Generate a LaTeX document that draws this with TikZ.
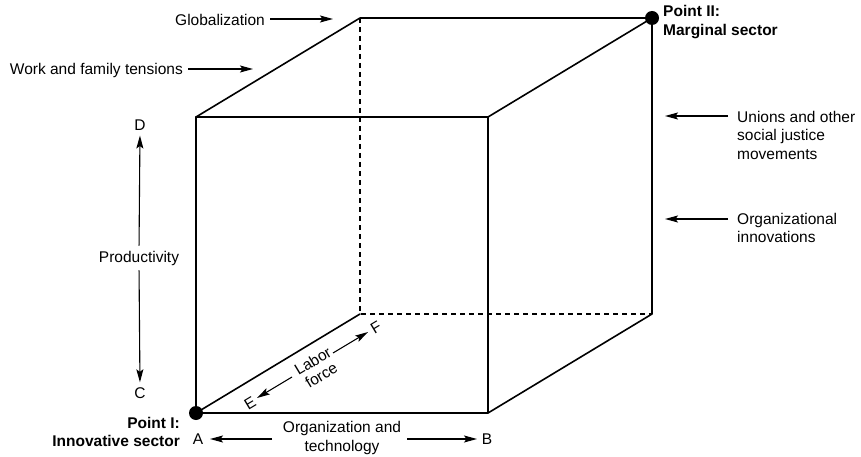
\documentclass[tikz,border=0pt]{standalone}
\usepackage{fontspec}
\setmainfont{Liberation Sans}
\usetikzlibrary{arrows.meta}
\begin{document}
\begin{tikzpicture}[x=1pt,y=-1pt,
  edge/.style={line width=1.6pt, line join=round, line cap=round},
  hidden/.style={line width=1.2pt, dash pattern=on 5pt off 4pt},
  arr/.style={line width=1.1pt, -{Stealth[length=13pt,width=7pt,inset=2.5pt]}},
  lbl/.style={inner sep=0pt, font=\fontsize{15.5}{18.5}\selectfont},
  blbl/.style={inner sep=0pt, font=\fontsize{15.5}{18.5}\selectfont\bfseries},
  dot/.style={circle, fill=black, inner sep=0pt, minimum size=14pt}]
\useasboundingbox (0,0) rectangle (861,457);

% cube corners: front face (f) and back face (b)
\coordinate (f1) at (196,413);
\coordinate (f2) at (488,413);
\coordinate (f3) at (488,117);
\coordinate (f4) at (196,117);
\coordinate (b1) at (360,314);
\coordinate (b2) at (652,314);
\coordinate (b3) at (652,18);
\coordinate (b4) at (360,18);

% hidden edges
\draw[hidden] (b4) -- (b1) -- (b2);
% visible edges
\draw[edge] (f1) -- (f2) -- (f3) -- (f4) -- cycle;
\draw[edge] (f4) -- (b4) -- (b3) -- (b2) -- (f2);
\draw[edge] (f3) -- (b3);
\draw[edge] (f1) -- (b1);

% corner points
\node[dot] (p1) at (f1) {};
\node[dot] (p2) at (b3) {};

% forces acting on the cube
\node[lbl, anchor=east] (glob) at (265,20) {Globalization};
\coordinate (globT) at (270,19);
\coordinate (globH) at (333,19);
\draw[arr] (globT) -- (globH);

\node[lbl, anchor=east] (work) at (183,70) {Work and family tensions};
\coordinate (workT) at (188,69);
\coordinate (workH) at (253,69);
\draw[arr] (workT) -- (workH);

\node[lbl, anchor=west, align=left] (unions) at (737,135) {Unions and other\\social justice\\movements};
\coordinate (unT) at (728,116);
\coordinate (unH) at (665,116);
\draw[arr] (unT) -- (unH);

\node[lbl, anchor=west, align=left] (orgin) at (737,228) {Organizational\\innovations};
\coordinate (oiT) at (728,219);
\coordinate (oiH) at (665,219);
\draw[arr] (oiT) -- (oiH);

% productivity axis
\node[lbl] (D) at (140,125) {D};
\node[lbl] (C) at (140,393) {C};
\node[lbl] (prod) at (139,258) {Productivity};
\draw[arr, shorten <=5pt, shorten >=5pt] (prod.north) -- (D.south);
\draw[arr, shorten <=5pt, shorten >=5pt] (prod.south) -- (C.north);

% organization and technology axis
\node[lbl] (A) at (198,439) {A};
\node[lbl] (B) at (487,439) {B};
\node[lbl, align=center] (orgtech) at (342,438) {Organization and\\technology};
\coordinate (otL) at (272,439);
\coordinate (otLH) at (210,439);
\coordinate (otR) at (407,439);
\coordinate (otRH) at (477,439);
\draw[arr] (otL) -- (otLH);
\draw[arr] (otR) -- (otRH);

% labor force axis
\node[lbl, rotate=31] (E) at (250,403) {E};
\node[lbl, rotate=31] (F) at (376,327) {F};
\node[inner sep=0pt, rotate=31, align=center, font=\fontsize{15.5}{16.5}\selectfont] (labor) at (317,368) {Labor\\force};
\coordinate (lfE) at (292,377);
\coordinate (lfEH) at (257,398);
\coordinate (lfF) at (333,353);
\coordinate (lfFH) at (368,332);
\draw[arr] (lfE) -- (lfEH);
\draw[arr] (lfF) -- (lfFH);

% sector labels
\node[blbl, anchor=east, align=right] (pt1) at (180,432) {Point I:\\Innovative sector};
\node[blbl, anchor=west, align=left] (pt2) at (663,22) {Point II:\\Marginal sector};
\end{tikzpicture}
\end{document}
